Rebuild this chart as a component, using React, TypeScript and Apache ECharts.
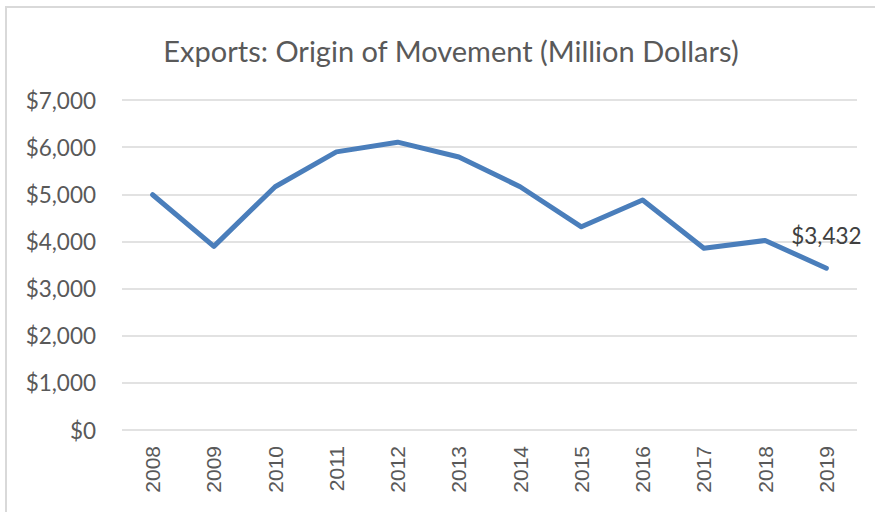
import React, { useEffect, useRef } from "react";
import * as echarts from "echarts";

const title = "Exports: Origin of Movement (Million Dollars)";
const years = ["2008", "2009", "2010", "2011", "2012", "2013", "2014", "2015", "2016", "2017", "2018", "2019"];
const exportsValues = [4990, 3895, 5160, 5900, 6105, 5790, 5160, 4310, 4880, 3855, 4020, 3432];
const yTicks = [0, 1000, 2000, 3000, 4000, 5000, 6000, 7000];

const fmt = (v: number) => "$" + v.toLocaleString("en-US");
const FONT = "Lato, 'Open Sans', sans-serif";

export default function App() {
  const ref = useRef<HTMLDivElement>(null);
  useEffect(() => {
    if (!ref.current) return;
    const chart = echarts.init(ref.current, undefined, { renderer: "svg" });
    const last = exportsValues.length - 1;
    chart.setOption({
      animation: false,
      backgroundColor: "#ffffff",
      textStyle: { fontFamily: FONT },
      title: {
        text: title,
        left: 446,
        top: 31,
        textAlign: "center",
        textStyle: { fontFamily: FONT, fontSize: 29, fontWeight: "normal", color: "#595959" },
      },
      graphic: [
        {
          type: "rect",
          shape: { x: 6, y: 7, width: 900, height: 560 },
          style: { fill: "none", stroke: "#d9d9d9", lineWidth: 2 },
          silent: true,
        },
      ],
      grid: { left: 122, right: 18, top: 100, bottom: 82 },
      xAxis: {
        type: "category",
        data: years,
        boundaryGap: true,
        axisLine: { show: false },
        axisTick: { show: false },
        axisLabel: {
          rotate: 90,
          margin: 16,
          fontSize: 21,
          color: "#595959",
          fontFamily: "'Liberation Sans', Arial, sans-serif",
          interval: 0,
        },
      },
      yAxis: {
        type: "value",
        min: yTicks[0],
        max: yTicks[yTicks.length - 1],
        interval: 1000,
        axisLine: { show: false },
        axisTick: { show: false },
        splitLine: { lineStyle: { color: "#d9d9d9", width: 1.5 } },
        axisLabel: {
          margin: 26,
          fontSize: 22.5,
          color: "#595959",
          fontFamily: FONT,
          formatter: (v: number) => fmt(v),
        },
      },
      series: [
        {
          type: "line",
          showSymbol: true,
          showAllSymbol: true,
          data: exportsValues.map((v, i) =>
            i === last
              ? {
                  value: v,
                  symbol: "circle",
                  symbolSize: 1,
                  label: {
                    show: true,
                    position: "top",
                    distance: 21,
                    fontSize: 22.5,
                    color: "#404040",
                    fontFamily: FONT,
                    formatter: (p: any) => fmt(p.value),
                  },
                }
              : { value: v, symbol: "none" }
          ),
          lineStyle: { color: "#4A7EBB", width: 5, cap: "round", join: "round" },
          itemStyle: { color: "#4A7EBB" },
        },
      ],
    });
    return () => chart.dispose();
  }, []);
  return (
    <div
      ref={ref}
      style={{ position: "fixed", left: 0, top: 0, width: 875, height: 512, background: "#fff" }}
    />
  );
}
